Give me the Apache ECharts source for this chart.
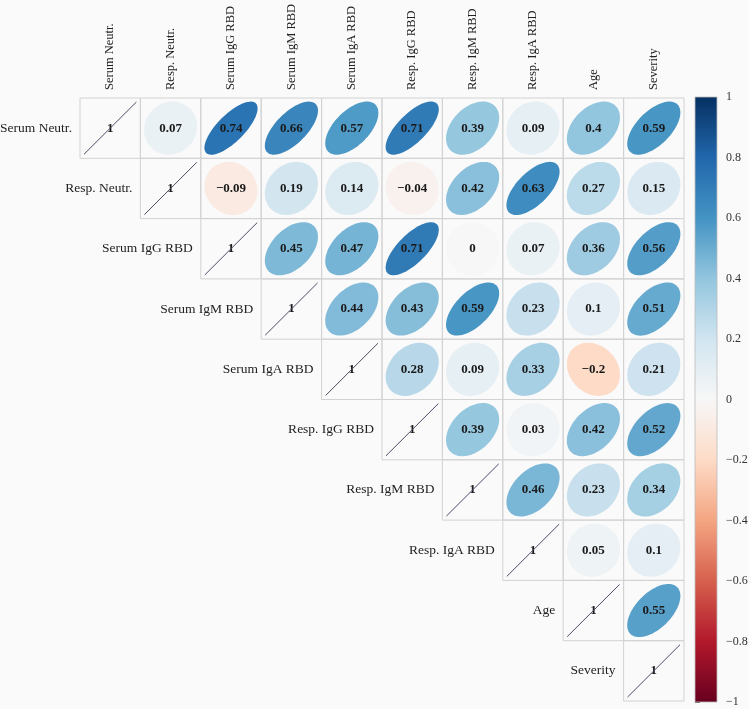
<!DOCTYPE html>
<html><head><meta charset="utf-8">
<script src="https://cdn.jsdelivr.net/npm/echarts@6/dist/echarts.min.js"></script>
<style>html,body{margin:0;padding:0;background:#fafafa}#c{width:749px;height:709px}</style>
</head><body><div id="c"></div><script>
const variables = ['Serum Neutr.','Resp. Neutr.','Serum IgG RBD','Serum IgM RBD','Serum IgA RBD','Resp. IgG RBD','Resp. IgM RBD','Resp. IgA RBD','Age','Severity'];
// upper-triangle rows, each starting at the diagonal
const rowSerumNeutr = [1, 0.07, 0.74, 0.66, 0.57, 0.71, 0.39, 0.09, 0.4, 0.59];
const rowRespNeutr  = [1, -0.09, 0.19, 0.14, -0.04, 0.42, 0.63, 0.27, 0.15];
const rowSerumIgG   = [1, 0.45, 0.47, 0.71, 0, 0.07, 0.36, 0.56];
const rowSerumIgM   = [1, 0.44, 0.43, 0.59, 0.23, 0.1, 0.51];
const rowSerumIgA   = [1, 0.28, 0.09, 0.33, -0.2, 0.21];
const rowRespIgG    = [1, 0.39, 0.03, 0.42, 0.52];
const rowRespIgM    = [1, 0.46, 0.23, 0.34];
const rowRespIgA    = [1, 0.05, 0.1];
const rowAge        = [1, 0.55];
const rowSeverity   = [1];
const rows = [rowSerumNeutr,rowRespNeutr,rowSerumIgG,rowSerumIgM,rowSerumIgA,rowRespIgG,rowRespIgM,rowRespIgA,rowAge,rowSeverity];
const colorbarRange = [-1, 1];
const colorbarStep = 0.2;
const rdbu = ['#67001f','#b2182b','#d6604d','#f4a582','#fddbc7','#f7f7f7','#d1e5f0','#92c5de','#4393c3','#2166ac','#053061'];

const FONT = '"Liberation Serif", "DejaVu Serif", serif';
const cells = [];
rows.forEach((r, i) => r.forEach((v, k) => cells.push([i + k, i, v])));

function fmt(v){ return String(Math.round(v*100)/100).replace('-', '\u2212'); }

function renderCell(params, api){
  const j = api.value(0), i = api.value(1), v = api.value(2);
  const c = api.coord([j, i]);
  const sz = api.size([1, 1]);
  const w = sz[0], h = sz[1];
  const x0 = c[0] - w/2, y0 = c[1] - h/2;
  const children = [{type:'rect', shape:{x:x0, y:y0, width:w, height:h},
    style:{fill:'none', stroke:'#d2d2d2', lineWidth:1}}];
  if (i === j) {
    children.push({type:'text', style:{text:'1', x:c[0], y:c[1], align:'center', verticalAlign:'middle',
      font:'bold 13px ' + FONT, fill:'#1a1a1a'}});
    const ins = 4;
    children.push({type:'line', shape:{x1:x0+ins, y1:y0+h-ins, x2:x0+w-ins, y2:y0+ins},
      style:{stroke:'#4a4d66', lineWidth:1}});
    children.push({type:'text', style:{text:variables[i], x:x0-8, y:c[1], align:'right', verticalAlign:'middle',
      font:'13.5px ' + FONT, fill:'#222'}});
  } else {
    const R = w * 0.44;
    const d = Math.acos(Math.max(-1, Math.min(1, v)));
    const pts = [];
    for (let k = 0; k < 72; k++) {
      const t = k / 72 * Math.PI * 2;
      pts.push([c[0] + R*Math.cos(t + d/2), c[1] - R*Math.cos(t - d/2)]);
    }
    children.push({type:'polygon', shape:{points:pts}, style:{fill:api.visual('color')}});
    children.push({type:'text', style:{text:fmt(v), x:c[0], y:c[1], align:'center', verticalAlign:'middle',
      font:'bold 13px ' + FONT, fill:'#1a1a1a'}});
  }
  return {type:'group', children};
}

function renderBar(params, api){
  const cs = params.coordSys;
  const top = api.coord([0, api.value(2)]);
  const bot = api.coord([0, api.value(1)]);
  const stops = rdbu.slice().reverse().map((col, k) => ({offset:k/(rdbu.length-1), color:col}));
  return {type:'rect', shape:{x:cs.x, y:top[1], width:cs.width, height:bot[1]-top[1]},
    style:{fill:{type:'linear', x:0, y:0, x2:0, y2:1, colorStops:stops}, stroke:'#bbb', lineWidth:0.8}};
}

const chart = echarts.init(document.getElementById('c'));
chart.setOption({
  backgroundColor:'#fafafa',
  animation:false,
  grid:[{left:80, top:98, width:604, height:603, containLabel:false, outerBoundsMode:'none'},
        {left:695, top:97, width:22, height:605, containLabel:false, outerBoundsMode:'none'}],
  xAxis:[{type:'category', data:variables, position:'top', gridIndex:0,
          axisLine:{show:false}, axisTick:{show:false}, splitLine:{show:false},
          axisLabel:{rotate:-90, margin:8, fontSize:12.5, fontFamily:FONT, color:'#222', interval:0}},
         {type:'value', gridIndex:1, min:0, max:1, show:false}],
  yAxis:[{type:'category', data:variables, inverse:true, gridIndex:0, show:false},
         {type:'value', gridIndex:1, min:colorbarRange[0], max:colorbarRange[1], interval:colorbarStep, position:'right',
          axisLine:{show:false}, splitLine:{show:false},
          axisTick:{show:true, length:5, lineStyle:{color:'#555'}},
          axisLabel:{margin:9, fontSize:12, fontFamily:FONT, color:'#333', formatter:v => fmt(Math.round(v*10)/10)}}],
  visualMap:{type:'continuous', show:false, min:colorbarRange[0], max:colorbarRange[1], seriesIndex:0, dimension:2,
    inRange:{color:rdbu}},
  series:[
    {type:'custom', xAxisIndex:0, yAxisIndex:0, data:cells, renderItem:renderCell},
    {type:'custom', xAxisIndex:1, yAxisIndex:1, data:[[0, colorbarRange[0], colorbarRange[1]]], renderItem:renderBar}
  ]
});
</script></body></html>
